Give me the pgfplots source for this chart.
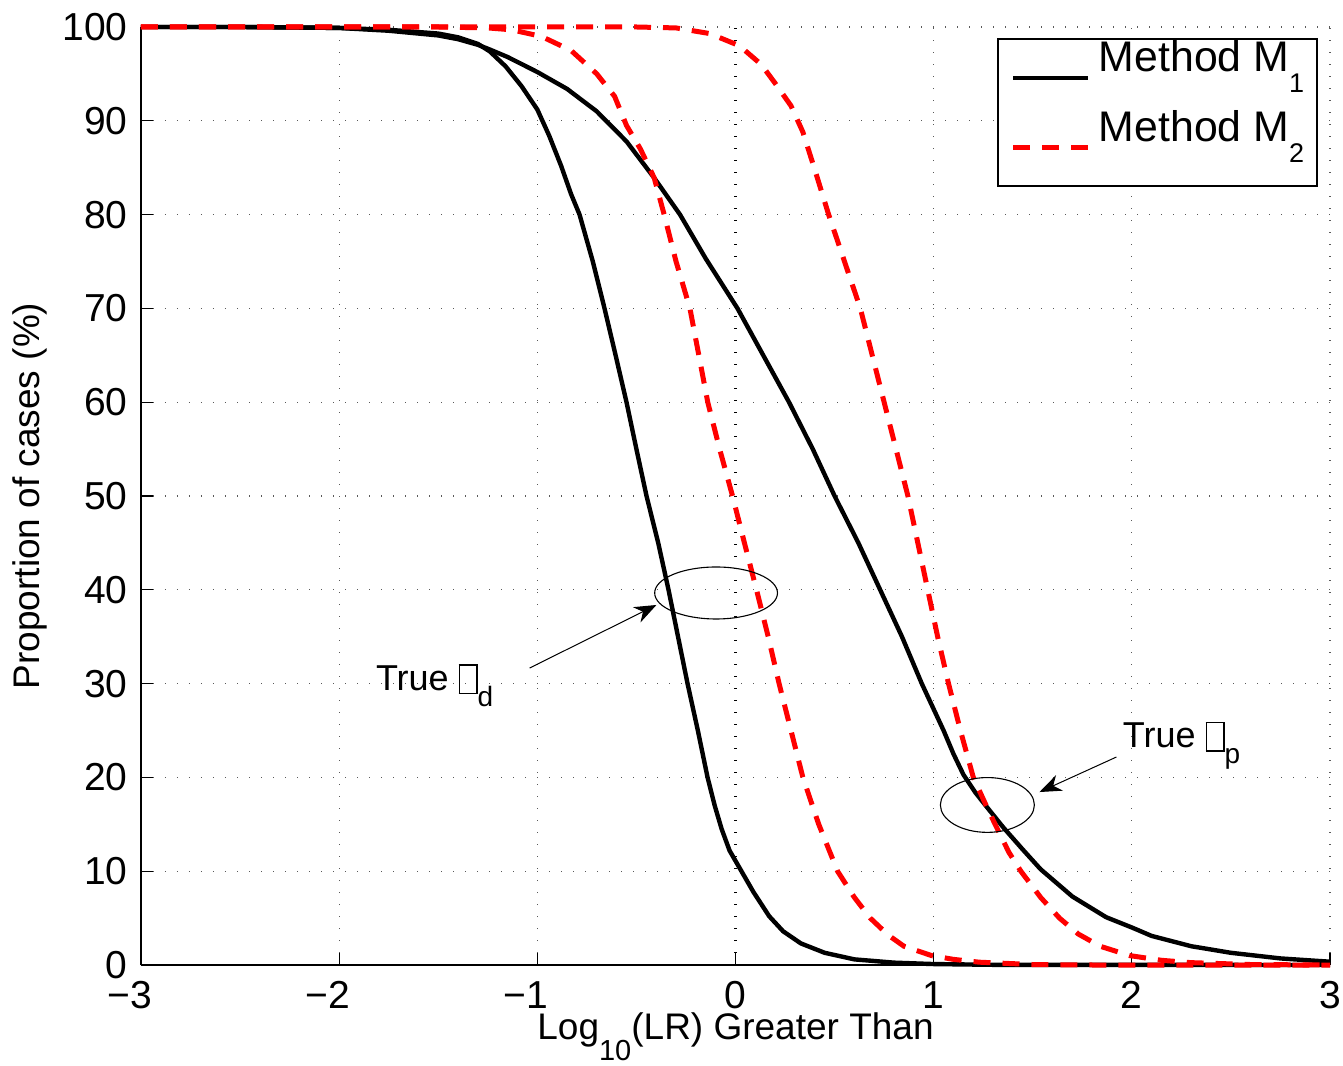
\documentclass[border=0pt]{standalone}
\usepackage{fontspec}
\setmainfont{Liberation Sans}
\usepackage{pgfplots}
\pgfplotsset{compat=1.18}
\usetikzlibrary{arrows.meta}

\newcommand\tickfont{\fontsize{19.5}{22}\selectfont}
\newcommand\labelfont{\fontsize{18.5}{21}\selectfont}
\newcommand\legfont{\fontsize{21.4}{24}\selectfont}
\newcommand\annfont{\fontsize{18}{20}\selectfont}
% subscripts set low, in the style of the plotting tool
\newcommand\lsub[1]{\raisebox{-10.5pt}{\fontsize{13.5}{13.5}\selectfont #1}}
\newcommand\xsub[1]{\raisebox{-10.5pt}{\fontsize{14.5}{14.5}\selectfont #1}}
\newcommand\asub[1]{\raisebox{-8pt}{\fontsize{14}{14}\selectfont #1}}
% empty box standing for the missing hypothesis symbol
\newcommand\glyphbox{{\setlength\fboxsep{0pt}\setlength\fboxrule{0.65pt}\raisebox{-1.5pt}{\fbox{\rule{0pt}{13.7pt}\hspace{8.2pt}}}}}

\begin{document}
\begin{tikzpicture}
\begin{axis}[
  scale only axis,
  width=594.5pt, height=469pt,
  xmin=-3, xmax=3, ymin=0, ymax=100,
  clip=false,
  axis x line=bottom, axis y line=left,
  axis line style={-, line width=0.65pt},
  every outer x axis line/.append style={-},
  every outer y axis line/.append style={-},
  tick align=inside,
  major tick length=6pt,
  tick style={black, line width=0.6pt},
  xtick={-3,-2,-1,0,1,2,3},
  xticklabels={\llap{−}3,\llap{−}2,\llap{−}1,0,1,2,3},
  ytick={0,10,20,30,40,50,60,70,80,90,100},
  yticklabels={0,10,20,30,40,50,60,70,80,90,100},
  xticklabel style={anchor=north, inner sep=0pt, yshift=-8pt, font=\tickfont},
  yticklabel style={anchor=east, inner sep=0pt, xshift=-6.5pt, font=\tickfont},
  grid=major,
  major grid style={black!65, line width=0.6pt, dash pattern=on 0.6pt off 5.4pt},
  xlabel={Log\xsub{10}(LR) Greater Than},
  ylabel={Proportion of cases (\%)},
  xlabel style={at={(axis description cs:0.5,-0.0789)}, anchor=base, inner sep=0pt, font=\labelfont},
  ylabel style={at={(axis description cs:-0.0934,0.5)}, anchor=center, inner sep=0pt, font=\labelfont},
  legend cell align=left,
  legend image code/.code={\draw[#1] (0pt,-0.25pt) -- (37.5pt,-0.25pt);},
  legend style={at={(0.9899,0.9883)}, anchor=north east, draw=black, line width=0.8pt,
    fill=white, inner xsep=6.5pt, inner ysep=10.5pt, row sep=17.5pt, column sep=4pt,
    nodes={inner sep=0pt, font=\legfont, text height=6pt, text depth=11.5pt}},
]

% reference line at log LR = 0
\addplot[forget plot, black, line width=1.6pt, dash pattern=on 0.7pt off 5.3pt]
  coordinates {(0,0) (0,100)};

% Method M1, true Hd
\addplot[black, line width=2.2pt] coordinates {
(-3,100) (-2.5,100) (-2,99.9) (-1.75,99.7) (-1.5,99.3) (-1.4,98.9) (-1.3,98.2)
(-1.24,97.4) (-1.16,95.8) (-1.08,93.7) (-1.0,91.2) (-0.94,88.4) (-0.88,85.2)
(-0.83,82.2) (-0.787,80) (-0.72,75) (-0.661,70) (-0.605,65) (-0.55,60) (-0.50,55)
(-0.449,50) (-0.39,45) (-0.338,40) (-0.29,35) (-0.242,30) (-0.19,25) (-0.141,20)
(-0.105,17) (-0.07,14.5) (-0.03,12.2) (0.03,10) (0.09,7.8) (0.17,5.2) (0.24,3.6)
(0.33,2.3) (0.45,1.3) (0.6,0.6) (0.8,0.25) (1.0,0.1) (1.3,0.02) (3,0)};
\addlegendentry{Method M\lsub{1}}

% Method M1, true Hp
\addplot[forget plot, black, line width=2.2pt] coordinates {
(-3,100) (-2.5,100) (-2,99.9) (-1.75,99.6) (-1.5,99.1) (-1.4,98.7) (-1.3,98.1)
(-1.24,97.6) (-1.15,96.8) (-1.0,95.2) (-0.85,93.4) (-0.7,91.0) (-0.55,87.8)
(-0.41,83.9) (-0.28,80) (-0.15,75.3) (0.01,70) (0.14,65) (0.27,60) (0.39,55)
(0.5,50) (0.62,45) (0.73,40) (0.84,35) (0.94,30) (1.05,25) (1.1,22.5) (1.15,20.3)
(1.21,18.4) (1.27,16.8) (1.35,14.7) (1.45,12.3) (1.54,10.2) (1.7,7.3) (1.87,5.1)
(2.0,4.0) (2.1,3.1) (2.3,2.0) (2.5,1.3) (2.75,0.7) (3,0.35)};

% Method M2, true Hd
\addplot[red, line width=2.5pt, dash pattern=on 8.5pt off 6pt] coordinates {
(-3,100) (-1.5,100) (-1.25,99.9) (-1.13,99.7) (-0.98,99) (-0.83,97.5) (-0.7,95)
(-0.61,92.6) (-0.55,89.5) (-0.48,87) (-0.41,83.9) (-0.36,80) (-0.3,75) (-0.23,70)
(-0.185,65) (-0.14,60) (-0.08,55) (-0.015,50) (0.045,45) (0.106,40) (0.165,35)
(0.22,30) (0.28,25) (0.34,20) (0.42,15) (0.515,10) (0.6,7.2) (0.68,5) (0.77,3.2)
(0.85,2) (0.99,1) (1.1,0.6) (1.23,0.3) (1.5,0.05) (1.8,0) (3,0)};
\addlegendentry{Method M\lsub{2}}

% Method M2, true Hp
\addplot[forget plot, red, line width=2.5pt, dash pattern=on 8.5pt off 6pt] coordinates {
(-3,100) (-0.5,100) (-0.3,99.9) (-0.13,99.3) (0.02,98) (0.13,96) (0.2,94)
(0.28,91.6) (0.34,88.8) (0.4,84.8) (0.47,80) (0.55,75) (0.63,70) (0.69,65)
(0.75,60) (0.81,55) (0.87,50) (0.92,45) (0.97,40) (1.02,35) (1.075,30) (1.135,25)
(1.2,20) (1.265,17) (1.31,15) (1.38,12) (1.44,10) (1.54,7.2) (1.635,5) (1.73,3.3)
(1.84,2) (1.99,1) (2.15,0.5) (2.3,0.25) (2.6,0.05) (3,0)};

% annotations
\draw[line width=0.55pt] (axis cs:-0.098,39.66) ellipse [x radius=30.7pt, y radius=13pt];
\draw[line width=0.55pt] (axis cs:1.271,17.06) ellipse [x radius=23.5pt, y radius=13.7pt];
\draw[line width=0.5pt, -{Stealth[length=11pt, width=8.5pt, inset=3.5pt]}]
  (axis cs:-1.039,31.66) -- (axis cs:-0.399,38.38);
\draw[line width=0.5pt, -{Stealth[length=11pt, width=8.5pt, inset=3.5pt]}]
  (axis cs:1.922,22.17) -- (axis cs:1.534,18.44);
\node[anchor=base west, inner sep=0pt, font=\annfont] at (axis cs:-1.816,29.3) {True \glyphbox\asub{d}};
\node[anchor=base west, inner sep=0pt, font=\annfont] at (axis cs:1.953,23.2) {True \glyphbox\asub{p}};
\end{axis}
\pgfresetboundingbox
\path[use as bounding box] (-70.5pt,-50pt) rectangle (601pt,482.5pt);
\end{tikzpicture}
\end{document}
